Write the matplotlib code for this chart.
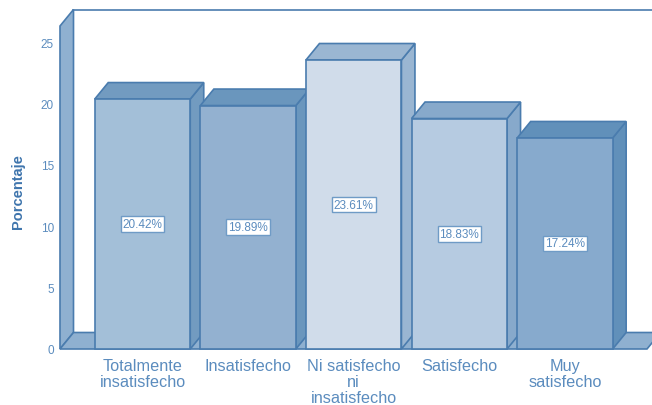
import matplotlib
matplotlib.use("Agg")
import matplotlib.pyplot as plt
from matplotlib.patches import Polygon

plt.rcParams['font.family'] = ['Liberation Sans', 'DejaVu Sans']

categories = ["Totalmente\ninsatisfecho", "Insatisfecho", "Ni satisfecho\nni\ninsatisfecho", "Satisfecho", "Muy\nsatisfecho"]
values = [20.42, 19.89, 23.61, 18.83, 17.24]
labels = ["20.42%", "19.89%", "23.61%", "18.83%", "17.24%"]
yticks = [0, 5, 10, 15, 20, 25]
front_colors = ["#a3bfd8", "#93b1d0", "#d0dcea", "#b6cbe1", "#87aacd"]
top_colors = ["#729bc0", "#6a96bd", "#9ab6d2", "#87a9cb", "#6190ba"]
side_colors = ["#729bc0", "#6a96bd", "#9ab6d2", "#87a9cb", "#6190ba"]

EDGE = "#4a7cae"
WALL = "#8fb0d0"
TEXT = "#5b8cbe"
W, H = 652, 406
L, R, B, T = 60, 647, 350, 27
PX_X, PX_Y = 105.6, 12.24
BAR_W = 95.5 / PX_X
DX, DY = 13.5 / PX_X, 16.5 / PX_Y

fig = plt.figure(figsize=(W / 100, H / 100), dpi=100, facecolor="white")
ax = fig.add_axes([L / W, 1 - B / H, (R - L) / W, (B - T) / H])
ax.set_xlim((L - 142.5) / PX_X, (R - 142.5) / PX_X)
ax.set_ylim(0, (B - T) / PX_Y)
ax.axis("off")


def poly(pts, fc, z):
    ax.add_patch(Polygon(pts, closed=True, facecolor=fc, edgecolor=EDGE, lw=1.2,
                         joinstyle="miter", clip_on=False, zorder=z))


x0, x1 = ax.get_xlim()
y1 = ax.get_ylim()[1]
# left wall, back frame, floor
poly([(x0, 0), (x0 + DX, DY), (x0 + DX, y1 + DY), (x0, y1)], WALL, 1)
ax.plot([x0 + DX, x1 + DX], [y1 + DY, y1 + DY], color=EDGE, lw=1.2, clip_on=False, zorder=1)
poly([(x0, 0), (x1, 0), (x1 + DX, DY), (x0 + DX, DY)], WALL, 1)

for i, v in enumerate(values):
    a, b = i - BAR_W / 2, i + BAR_W / 2
    z = 2 + i
    poly([(b, 0), (b + DX, DY), (b + DX, v + DY), (b, v)], side_colors[i], z)
    poly([(a, v), (b, v), (b + DX, v + DY), (a + DX, v + DY)], top_colors[i], z)
    poly([(a, 0), (b, 0), (b, v), (a, v)], front_colors[i], z)
    ax.text(i, v / 2, labels[i], ha="center", va="center", fontsize=8.5, color=TEXT, zorder=20,
            bbox=dict(boxstyle="square,pad=0.16", fc="white", ec="#6f9bc6", lw=1))

for t in yticks:
    ax.text(x0 - 6 / PX_X, t - 1 / PX_Y, str(t), ha="right", va="center", fontsize=8.5, color=TEXT, clip_on=False)

for i, c in enumerate(categories):
    ax.text(i, -9 / PX_Y, c, ha="center", va="top", fontsize=11.7, color=TEXT,
            linespacing=1.07, clip_on=False)

fig.text(18.5 / W, 1 - 192 / H, "Porcentaje", rotation=90, ha="center", va="center",
         fontsize=10.5, color="#3f75ad", fontweight="bold")

fig.savefig("out.png", dpi=100)
